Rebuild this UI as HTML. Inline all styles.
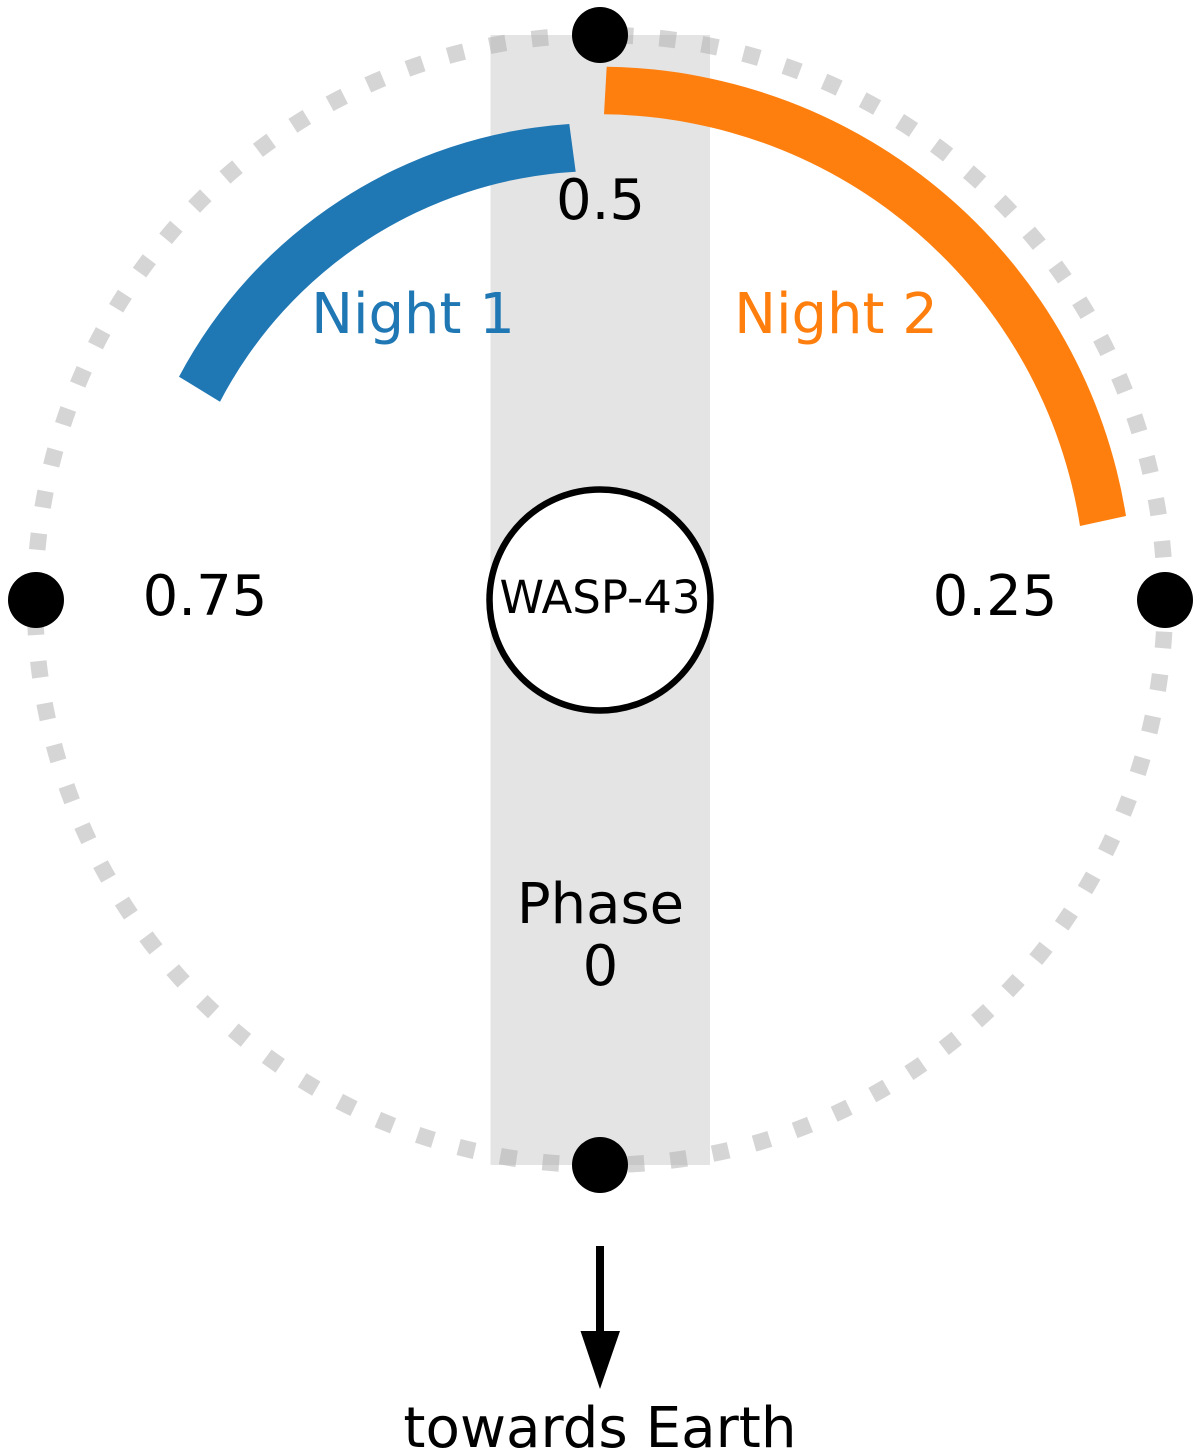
<!DOCTYPE html>
<html>
<head>
<meta charset="utf-8">
<style>
html,body{margin:0;padding:0;background:#fff;width:1200px;height:1456px;overflow:hidden}
svg{display:block}
text{font-family:"DejaVu Sans",sans-serif;text-anchor:middle;fill:#000}
</style>
</head>
<body>
<svg width="1200" height="1456" viewBox="0 0 1200 1456" xmlns="http://www.w3.org/2000/svg">
<rect x="490.5" y="35" width="219.5" height="1130" fill="#e4e4e4"/>
<circle cx="600" cy="600" r="565" fill="none" stroke="#aeaeae" stroke-opacity="0.52" stroke-width="16.5" stroke-dasharray="16.5 26.2" transform="translate(0 1200) scale(1 -1)"/>
<path d="M 179 376.7 A 477 477 0 0 1 569.3 124 L 575.7 171.7 A 429 429 0 0 0 220 401.7 Z" fill="#1f77b4"/>
<path d="M 606.7 66.7 A 534 534 0 0 1 1126 516 L 1080 526 A 487 487 0 0 0 604 114.3 Z" fill="#ff7f0e"/>
<circle cx="600" cy="35" r="28"/>
<circle cx="600" cy="1165" r="28"/>
<circle cx="36" cy="600" r="28"/>
<circle cx="1165" cy="600" r="28"/>
<circle cx="600" cy="600" r="110.5" fill="#fff" stroke="#000" stroke-width="6.5"/>
<text x="600" y="613" font-size="45">WASP-43</text>
<text x="600.5" y="219" font-size="56">0.5</text>
<text x="205" y="615" font-size="56">0.75</text>
<text x="995" y="615" font-size="56">0.25</text>
<text x="413" y="333" font-size="56" style="fill:#1f77b4">Night 1</text>
<text x="836" y="333" font-size="56" style="fill:#ff7f0e">Night 2</text>
<text x="600.5" y="923" font-size="56">Phase</text>
<text x="600.5" y="985" font-size="56">0</text>
<rect x="596" y="1246" width="8" height="90"/>
<polygon points="580.5,1331 620,1331 600,1389"/>
<text x="600" y="1447" font-size="56.3">towards Earth</text>
</svg>
</body>
</html>
